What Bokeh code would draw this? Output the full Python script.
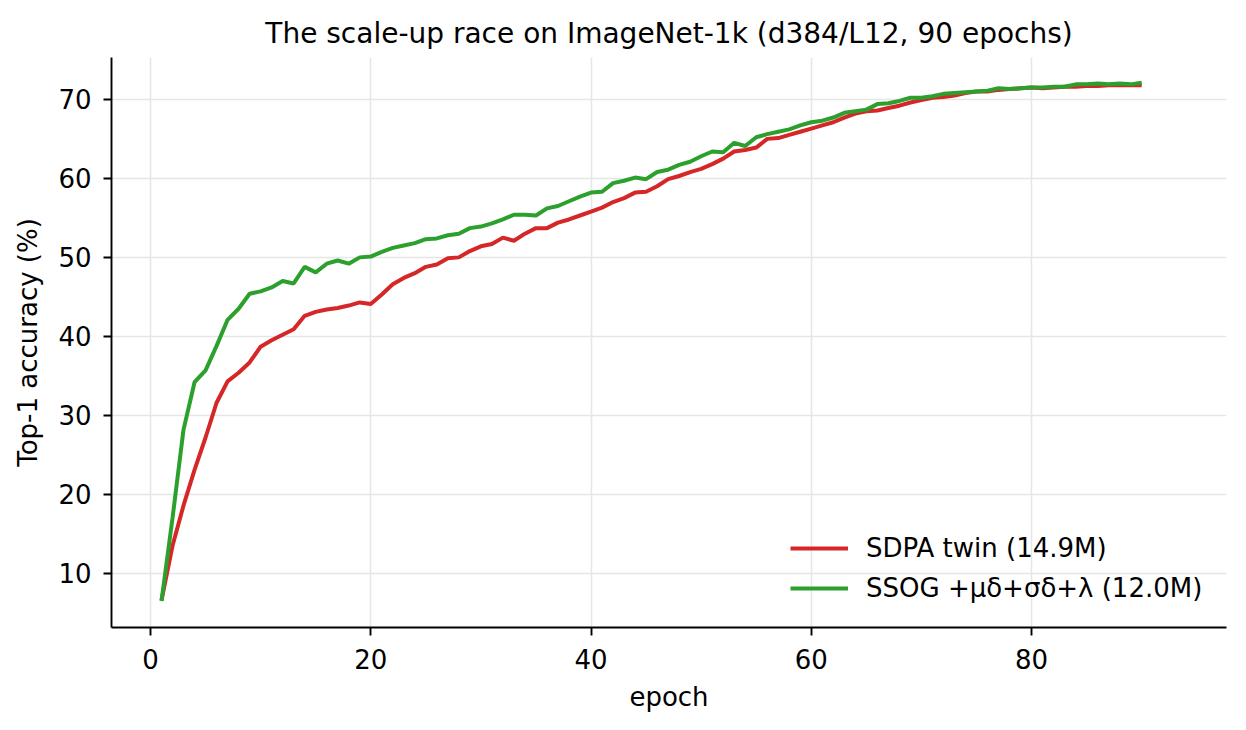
"""ImageNet-1k のスケールアップ比較グラフ."""
import typing as typ

import bokeh.models as bm
import bokeh.plotting as bp
from bokeh.embed import file_html
from bokeh.resources import INLINE

# データ
EPOCHS: typ.List[int] = list(range(1, 91))
SDPA_ACC: typ.List[float] = [
    6.6, 13.5, 18.6, 23.1, 27.2, 31.6, 34.3, 35.4, 36.7, 38.7,
    39.5, 40.2, 40.9, 42.6, 43.1, 43.4, 43.6, 43.9, 44.3, 44.1,
    45.3, 46.6, 47.4, 48.0, 48.8, 49.1, 49.9, 50.0, 50.8, 51.4,
    51.7, 52.5, 52.1, 53.0, 53.7, 53.7, 54.4, 54.8, 55.3, 55.8,
    56.3, 57.0, 57.5, 58.2, 58.3, 59.0, 59.9, 60.3, 60.8, 61.2,
    61.8, 62.5, 63.4, 63.6, 63.9, 65.0, 65.1, 65.5, 65.9, 66.3,
    66.7, 67.1, 67.7, 68.2, 68.5, 68.6, 68.9, 69.2, 69.6, 69.9,
    70.2, 70.3, 70.5, 70.8, 71.0, 71.0, 71.2, 71.3, 71.4, 71.5,
    71.4, 71.5, 71.6, 71.6, 71.7, 71.7, 71.8, 71.8, 71.8, 71.8,
]
SSOG_ACC: typ.List[float] = [
    6.5, 17.0, 28.2, 34.2, 35.7, 38.8, 42.1, 43.5, 45.4, 45.7,
    46.2, 47.0, 46.7, 48.8, 48.1, 49.2, 49.6, 49.2, 50.0, 50.1,
    50.7, 51.2, 51.5, 51.8, 52.3, 52.4, 52.8, 53.0, 53.7, 53.9,
    54.3, 54.8, 55.4, 55.4, 55.3, 56.2, 56.5, 57.1, 57.7, 58.2,
    58.3, 59.4, 59.7, 60.1, 59.9, 60.8, 61.1, 61.7, 62.1, 62.8,
    63.4, 63.3, 64.5, 64.1, 65.2, 65.6, 65.9, 66.2, 66.7, 67.1,
    67.3, 67.7, 68.3, 68.5, 68.7, 69.4, 69.5, 69.8, 70.2, 70.2,
    70.4, 70.7, 70.8, 70.9, 71.0, 71.1, 71.4, 71.3, 71.4, 71.5,
    71.5, 71.6, 71.6, 71.9, 71.9, 72.0, 71.9, 72.0, 71.9, 72.1,
]
X_TICKS: typ.List[int] = [0, 20, 40, 60, 80]
Y_TICKS: typ.List[int] = [10, 20, 30, 40, 50, 60, 70]

FONT: str = "DejaVu Sans"
TEXT_SIZE: str = "26px"


def make_graph() -> bp.figure:
    """グラフを描く.

    Returns:
        figure
    """
    fig: bp.figure = bp.figure(
        title="The scale-up race on ImageNet-1k (d384/L12, 90 epochs)",
        x_axis_label="epoch",
        y_axis_label="Top-1 accuracy (%)",
        width=1238,
        height=722,
        x_range=bm.Range1d(-3.54, 97.7),
        y_range=bm.Range1d(3.15, 75.3),
        output_backend="svg",
        toolbar_location=None,
        min_border_left=111,
        min_border_right=12,
        min_border_top=57,
        min_border_bottom=95,
    )
    fig.outline_line_color = None
    fig.title.align = "center"
    fig.title.text_font = FONT
    fig.title.text_font_size = "28px"
    fig.title.text_font_style = "normal"
    fig.title.text_color = "black"
    fig.title.offset = 0
    fig.title.standoff = 15

    fig.xaxis.ticker = bm.FixedTicker(ticks=X_TICKS)
    fig.yaxis.ticker = bm.FixedTicker(ticks=Y_TICKS)
    for axis in fig.xaxis + fig.yaxis:
        axis.axis_line_width = 1.9
        axis.axis_line_color = "black"
        axis.major_tick_line_width = 1.9
        axis.major_tick_out = 8
        axis.major_tick_in = 0
        axis.minor_tick_line_color = None
        axis.major_label_text_font = FONT
        axis.major_label_text_font_size = TEXT_SIZE
        axis.major_label_text_color = "black"
        axis.axis_label_text_font = FONT
        axis.axis_label_text_font_size = TEXT_SIZE
        axis.axis_label_text_font_style = "normal"
        axis.axis_label_text_color = "black"
    fig.xaxis.major_label_standoff = 13
    fig.yaxis.major_label_standoff = 12
    fig.xaxis.axis_label_standoff = 10
    fig.yaxis.axis_label_standoff = 12

    fig.grid.grid_line_color = "#e6e6e6"
    fig.grid.grid_line_width = 1.6

    fig.line(EPOCHS, SDPA_ACC, legend_label="SDPA twin (14.9M)", line_color="#d62728", line_width=4)
    fig.line(EPOCHS, SSOG_ACC, legend_label="SSOG +μδ+σδ+λ (12.0M)", line_color="#2ca02c", line_width=4)

    fig.legend.location = (679, 24)
    fig.legend.margin = 0
    fig.legend.padding = 0
    fig.legend.border_line_color = None
    fig.legend.background_fill_alpha = 0
    fig.legend.glyph_width = 58
    fig.legend.glyph_height = 30
    fig.legend.label_height = 30
    fig.legend.label_standoff = 18
    fig.legend.spacing = 10
    fig.legend.label_text_font = FONT
    fig.legend.label_text_font_size = TEXT_SIZE
    fig.legend.label_text_color = "black"
    return fig


def main() -> None:
    """メイン."""
    fig: bp.figure = make_graph()
    with open("out.html", "w") as f:
        f.write(file_html(fig, INLINE))


if __name__ == "__main__":
    main()
